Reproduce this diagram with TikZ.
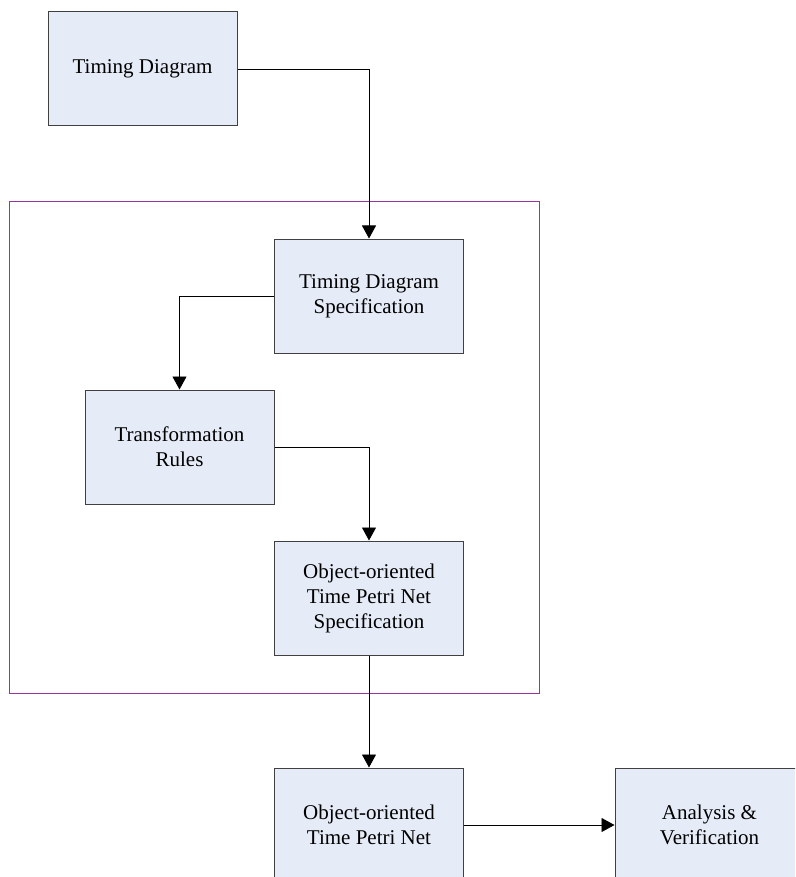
\documentclass[tikz,border=0pt]{standalone}
\usepackage{fontspec}
\setmainfont{Liberation Serif}
\usetikzlibrary{arrows.meta}
\definecolor{boxfill}{HTML}{E6ECF7}
\definecolor{boxline}{HTML}{404040}
\definecolor{framecol}{HTML}{9933A0}
\begin{document}
\begin{tikzpicture}[x=1pt,y=-1pt,
  block/.style={draw=boxline, fill=boxfill, line width=1pt, minimum width=189pt,
    minimum height=114pt, inner sep=0pt, align=center, font=\fontsize{21}{25}\selectfont},
  conn/.style={draw=black, line width=0.9pt, -{Triangle[length=13pt,width=14pt]}}]
\useasboundingbox (0,0) rectangle (795,877);
\clip (0,0) rectangle (795,877);
% enclosing frame of the transformation stage
\draw[framecol, line width=1.1pt] (9.5,201.5) rectangle (539.5,693.5);
% blocks
\node[block] (td)   at (142.5,69)  {Timing Diagram};
\node[block] (tds)  at (369,296)   {Timing Diagram\\Specification};
\node[block] (tr)   at (179.5,447) {Transformation\\Rules};
\node[block] (spec) at (369,598)   {Object-oriented\\Time Petri Net\\Specification};
\node[block] (net)  at (369,825)   {Object-oriented\\Time Petri Net};
\node[block] (av)   at (709.5,825) {Analysis \&\\Verification};
% connectors
\draw[conn] (td.east) -| (tds.north);
\draw[conn] (tds.west) -| (tr.north);
\draw[conn] (tr.east) -| (spec.north);
\draw[conn] (spec.south) -- (net.north);
\draw[conn] (net.east) -- (av.west);
\end{tikzpicture}
\end{document}
